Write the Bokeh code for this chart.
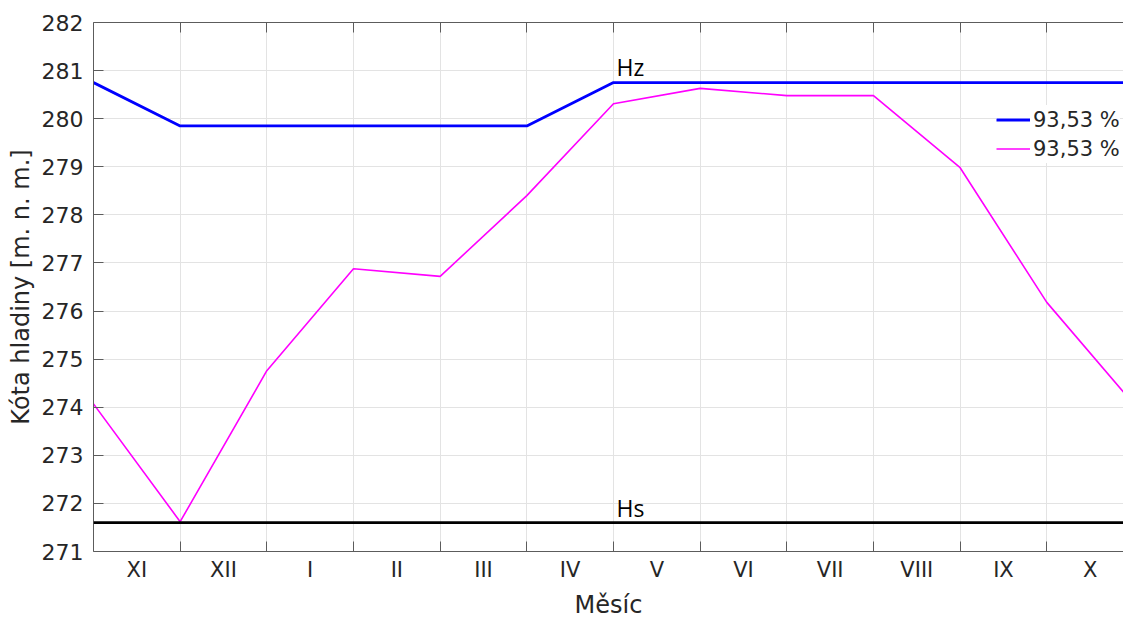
from bokeh.plotting import figure
from bokeh.models import (FixedTicker, LinearAxis, Range1d, Span, Legend,
                          LegendItem, CustomLabelingPolicy)
from bokeh.core.properties import value
from bokeh.embed import file_html
from bokeh.resources import INLINE

# Months of the hydrological year (Nov .. Oct)
months = ["XI", "XII", "I", "II", "III", "IV", "V", "VI", "VII", "VIII", "IX", "X"]
# Month boundaries 0..12
x_bounds = list(range(13))
# Upper control level (dispatcher curve) [m n. m.]
level_control = [280.75, 279.85, 279.85, 279.85, 279.85, 279.85, 280.75,
                 280.75, 280.75, 280.75, 280.75, 280.75, 280.75]
# Simulated water level [m n. m.]
level_sim = [274.07, 271.62, 274.76, 276.88, 276.72, 278.40, 280.31,
             280.63, 280.48, 280.48, 278.98, 276.18, 274.07]
legend_labels = ["93,53 %", "93,53 %"]
Hz = 280.75   # top of storage
Hs = 271.6    # permanent storage level
y_ticks = list(range(271, 283))

TXT = "#262626"
AX = "#5c5c5c"
FONT = "DejaVu Sans"

p = figure(width=1123, height=622, output_backend="svg", toolbar_location=None,
           x_range=Range1d(0, 11.885), y_range=Range1d(271, 282),
           min_border_left=93, min_border_right=0, min_border_top=22,
           min_border_bottom=71, outline_line_color=None)
p.background_fill_color = "white"
p.border_fill_color = "white"

# Grid
p.xgrid.ticker = FixedTicker(ticks=x_bounds[1:12])
p.ygrid.ticker = FixedTicker(ticks=y_ticks)
p.xgrid.grid_line_color = "#e3e3e3"
p.ygrid.grid_line_color = "#e3e3e3"

# Bottom axis: month names centred in each month, tick marks on boundaries
xa = p.xaxis[0]
xa.ticker = FixedTicker(ticks=[i + 0.5 for i in range(12)], minor_ticks=x_bounds[1:12])
xa.major_label_overrides = {i + 0.5: m for i, m in enumerate(months)}
xa.major_tick_in = 0
xa.major_tick_out = 0
xa.minor_tick_in = 10
xa.minor_tick_out = 0
xa.minor_tick_line_color = AX
xa.axis_line_color = AX
xa.major_label_text_font = FONT
xa.major_label_text_font_size = "21px"
xa.major_label_text_color = TXT
xa.major_label_standoff = 6
xa.axis_label = "Měsíc"
xa.axis_label_text_font = FONT
xa.axis_label_text_font_size = "24px"
xa.axis_label_text_font_style = "normal"
xa.axis_label_text_color = TXT
xa.axis_label_standoff = 6

# Left axis
ya = p.yaxis[0]
ya.ticker = FixedTicker(ticks=y_ticks)
ya.major_tick_in = 10
ya.major_tick_out = 0
ya.minor_tick_line_color = None
ya.axis_line_color = AX
ya.major_tick_line_color = AX
ya.major_label_text_font = FONT
ya.major_label_text_font_size = "22px"
ya.major_label_text_color = TXT
ya.major_label_standoff = 10
ya.axis_label = "Kóta hladiny [m. n. m.]"
ya.axis_label_text_font = FONT
ya.axis_label_text_font_size = "24px"
ya.axis_label_text_font_style = "normal"
ya.axis_label_text_color = TXT
ya.axis_label_standoff = 4

# Top border with inward ticks and no labels
no_labels = CustomLabelingPolicy(code="""
    for (const i of Array.from(indices)) indices.unset(i)
    return indices
""")
top = LinearAxis(ticker=FixedTicker(ticks=x_bounds[1:12]), major_tick_in=10,
                 major_tick_out=0, major_label_policy=no_labels,
                 major_label_standoff=0, axis_line_color=AX,
                 major_tick_line_color=AX, minor_tick_line_color=None)
p.add_layout(top, "above")

# Data
r_ctrl = p.line(x_bounds, level_control, line_color="#0000ff", line_width=2.8)
r_sim = p.line(x_bounds, level_sim, line_color="#ff00ff", line_width=1.6)
p.add_layout(Span(location=Hs, dimension="width", line_color="black", line_width=2.6))

p.text(x=[6], y=[Hz], text=["Hz"], text_font=value("Open Sans"),
       text_font_size="23px", text_color="black", text_baseline="alphabetic",
       x_offset=3, y_offset=-16)
p.text(x=[6], y=[Hs], text=["Hs"], text_font=value("Open Sans"),
       text_font_size="23px", text_color="black", text_baseline="alphabetic",
       x_offset=3, y_offset=-15)

legend = Legend(items=[LegendItem(label=legend_labels[0], renderers=[r_ctrl]),
                       LegendItem(label=legend_labels[1], renderers=[r_sim])],
                location=(903, 388), border_line_color=None,
                background_fill_color="white", background_fill_alpha=1,
                label_text_font=FONT, label_text_font_size="21px",
                label_text_color=TXT, glyph_width=34, glyph_height=29,
                label_height=29, label_standoff=3, spacing=0, padding=2,
                margin=0)
p.add_layout(legend, "center")

open("out.html", "w").write(file_html(p, INLINE))
